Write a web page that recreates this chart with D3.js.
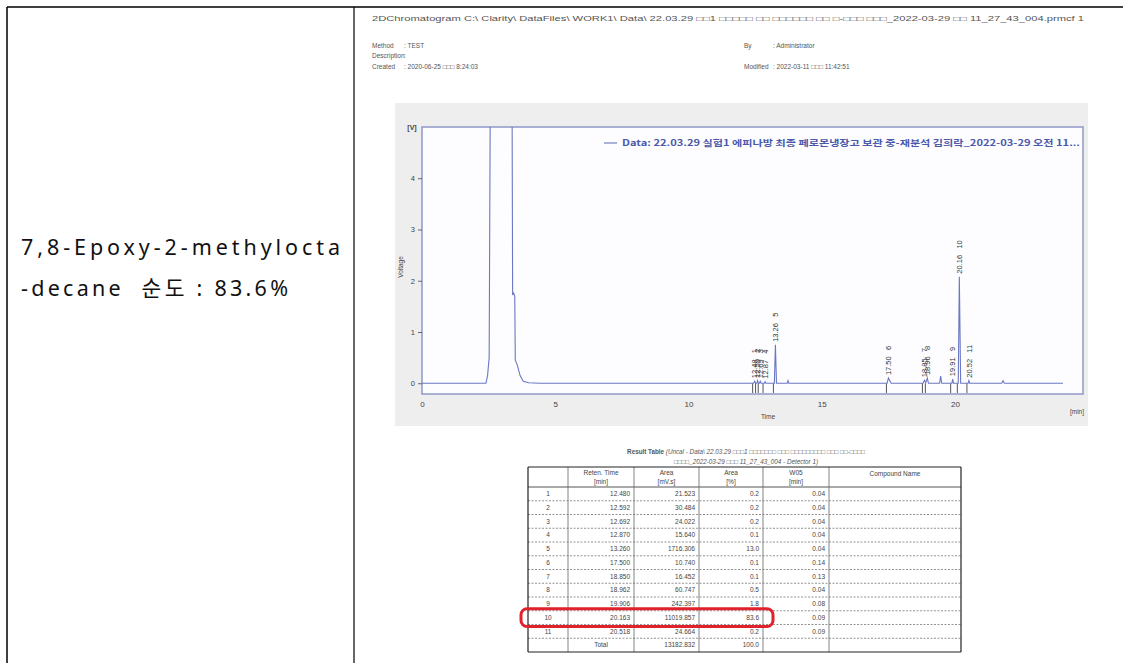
<!DOCTYPE html>
<html><head><meta charset="utf-8">
<script src="https://cdn.jsdelivr.net/npm/d3@7"></script>
<style>body{margin:0;background:#fff}svg{display:block}</style>
</head><body><svg id="c" width="1123" height="663"></svg>
<script>
// ---------- data ----------
const traceTime = [0,2.40,2.46,2.52,2.56,3.38,3.40,3.44,3.48,3.50,3.58,3.68,3.80,4.00,4.40,
  12.44,12.48,12.52,12.56,12.59,12.62,12.66,12.69,12.72,12.84,12.87,12.90,
  13.22,13.26,13.30,13.70,13.73,13.76,17.45,17.50,17.60,18.80,18.85,18.90,18.96,19.00,
  19.42,19.46,19.50,19.88,19.91,19.94,20.12,20.16,20.21,20.49,20.52,20.55,21.75,21.80,21.85,24.05];
const traceVolt = [0,0,0.15,0.5,5.4,5.4,1.72,1.76,1.70,0.45,0.35,0.15,0.04,0.01,0,
  0,0.04,0,0,0.05,0,0,0.04,0,0,0.03,0,
  0,0.75,0,0,0.05,0,0,0.10,0,0,0.06,0.01,0.10,0,
  0,0.14,0,0,0.08,0,0,2.08,0,0,0.05,0,0,0.05,0,0];
const peakNo   = [1,2,3,4,5,6,7,8,9,10,11];
const peakRT   = [12.48,12.59,12.69,12.87,13.26,17.50,18.85,18.96,19.91,20.16,20.52];
const peakTop  = [0.04,0.05,0.04,0.03,0.75,0.10,0.06,0.10,0.08,2.08,0.05];
const yTicks = [0,1,2,3,4];
const xTicks = [0,5,10,15,20];

const tblRT   = [12.480,12.592,12.692,12.870,13.260,17.500,18.850,18.962,19.906,20.163,20.518];
const tblArea = [21.523,30.484,24.022,15.640,1716.306,10.740,16.452,60.747,242.397,11019.857,24.664];
const tblPct  = [0.2,0.2,0.2,0.1,13.0,0.1,0.1,0.5,1.8,83.6,0.2];
const tblW05  = [0.04,0.04,0.04,0.04,0.04,0.14,0.13,0.04,0.08,0.09,0.09];
const totalArea = 13182.832, totalPct = 100.0;
const headers = [["",""],["Reten. Time","[min]"],["Area","[mV.s]"],["Area","[%]"],["W05","[min]"],["Compound Name",""]];

// ---------- drawing ----------
const svg = d3.select('#c');
const ink = '#000';

// document table borders
svg.append('line').attr('x1',7).attr('x2',1123).attr('y1',7).attr('y2',7).attr('stroke',ink).attr('stroke-width',1.5);
svg.append('line').attr('x1',7).attr('x2',7).attr('y1',7).attr('y2',663).attr('stroke',ink).attr('stroke-width',1.5);
svg.append('line').attr('x1',354).attr('x2',354).attr('y1',7).attr('y2',663).attr('stroke',ink).attr('stroke-width',1.2);

// left cell text
const lt = svg.append('g').attr('font-family','"Noto Sans","Noto Sans CJK KR",sans-serif').attr('font-size',21.5).attr('fill','#111');
lt.append('text').attr('x',21).attr('y',255).attr('textLength',319).attr('lengthAdjust','spacing').text('7,8-Epoxy-2-methylocta');
lt.append('text').attr('x',21).attr('y',296).attr('textLength',267).attr('lengthAdjust','spacing').style('white-space','pre').text('-decane  순도 : 83.6%');

// screenshot header text
const sm = svg.append('g').attr('font-family','"Liberation Sans",Arial,sans-serif').attr('font-size',6.5).attr('fill','#555');
sm.append('text').attr('x',372).attr('y',21).attr('textLength',712).attr('lengthAdjust','spacingAndGlyphs')
  .text('2DChromatogram C:\\ Clarity\\ DataFiles\\ WORK1\\ Data\\ 22.03.29 □□1 □□□□□ □□ □□□□□□ □□ □-□□□ □□□_2022-03-29 □□ 11_27_43_004.prmcf 1');
sm.append('text').attr('x',372).attr('y',48).text('Method');
sm.append('text').attr('x',404).attr('y',48).text(': TEST');
sm.append('text').attr('x',372).attr('y',58).text('Description');
sm.append('text').attr('x',404).attr('y',58).text(':');
sm.append('text').attr('x',372).attr('y',69).text('Created');
sm.append('text').attr('x',404).attr('y',69).text(': 2020-06-25  □□□ 8:24:03');
sm.append('text').attr('x',744).attr('y',48).text('By');
sm.append('text').attr('x',773).attr('y',48).text(': Administrator');
sm.append('text').attr('x',744).attr('y',69).text('Modified');
sm.append('text').attr('x',773).attr('y',69).text(': 2022-03-11  □□□ 11:42:51');

// chart panel
svg.append('rect').attr('x',395).attr('y',103).attr('width',693).attr('height',323).attr('fill','#eeeeee');
const x = d3.scaleLinear().domain([0,24.8]).range([422,1083]);
const y = d3.scaleLinear().domain([-0.21,5.0]).range([394,127]);
svg.append('rect').attr('x',422).attr('y',127).attr('width',661).attr('height',267)
  .attr('fill','#fdfdff').attr('stroke','#8e98c6').attr('stroke-width',1.5);

svg.append('defs').append('clipPath').attr('id','pc').append('rect')
  .attr('x',422).attr('y',127).attr('width',661).attr('height',267);

const gy = svg.append('g').attr('transform','translate(422,0)')
  .call(d3.axisLeft(y).tickValues(yTicks).tickFormat(d3.format('d')).tickSize(4).tickPadding(3));
gy.select('.domain').remove();
gy.selectAll('text').attr('font-size',7.5).attr('fill','#444').attr('font-family','"Liberation Sans",Arial,sans-serif');
gy.selectAll('line').attr('stroke','#666');

const gx = svg.append('g').attr('transform','translate(0,394)')
  .call(d3.axisBottom(x).tickValues(xTicks).tickFormat(d3.format('d')).tickSize(0).tickPadding(7));
gx.select('.domain').remove();
gx.selectAll('text').attr('font-size',8).attr('fill','#444').attr('font-family','"Liberation Sans",Arial,sans-serif');

const ax = svg.append('g').attr('font-family','"Liberation Sans",Arial,sans-serif').attr('fill','#444');
ax.append('text').attr('x',412).attr('y',130).attr('text-anchor','middle').attr('font-size',7).attr('font-weight','bold').text('[V]');
ax.append('text').attr('transform','translate(403,267) rotate(-90)').attr('text-anchor','middle').attr('font-size',6.5).text('Voltage');
ax.append('text').attr('x',768).attr('y',419).attr('text-anchor','middle').attr('font-size',6.5).text('Time');
ax.append('text').attr('x',1077).attr('y',414).attr('text-anchor','middle').attr('font-size',6.5).text('[min]');

// legend
svg.append('line').attr('x1',604).attr('x2',617).attr('y1',143).attr('y2',143).attr('stroke','#5a68b0').attr('stroke-width',1);
svg.append('text').attr('x',622).attr('y',146).attr('font-size',8.5).attr('font-weight','bold')
  .attr('font-family','"Noto Sans CJK KR","Liberation Sans",sans-serif').attr('fill','#4a58aa')
  .attr('textLength',458).attr('lengthAdjust','spacingAndGlyphs')
  .text('Data:  22.03.29 실험1 에피나방 최종 페로몬냉장고 보관 중-재분석 김희락_2022-03-29 오전 11...');

// integration markers
svg.append('g').selectAll('line').data(peakRT).join('line')
  .attr('x1',d=>x(d)-2).attr('x2',d=>x(d)-2).attr('y1',y(0)).attr('y2',y(-0.19))
  .attr('stroke','#555').attr('stroke-width',1);

// trace
const pts = traceTime.map((t,i)=>[t,traceVolt[i]]);
svg.append('path').datum(pts).attr('clip-path','url(#pc)')
  .attr('d',d3.line().x(d=>x(d[0])).y(d=>y(d[1])))
  .attr('fill','none').attr('stroke','#6b78c2').attr('stroke-width',1.1);

// peak labels
svg.append('g').selectAll('text').data(peakNo).join('text')
  .attr('transform',(d,i)=>`translate(${x(peakRT[i])},${y(peakTop[i])-3}) rotate(-90)`)
  .attr('dy','0.35em').attr('font-size',7.5).attr('fill','#333')
  .attr('font-family','"Liberation Sans",Arial,sans-serif').style('white-space','pre')
  .text((d,i)=>`${peakRT[i].toFixed(2)}   ${d}`);

// result table title
const tt = svg.append('g').attr('font-family','"Liberation Sans",Arial,sans-serif').attr('font-size',6.3).attr('fill','#555').attr('text-anchor','middle');
const t1 = tt.append('text').attr('x',746).attr('y',454);
t1.append('tspan').attr('font-weight','bold').text('Result Table ');
t1.append('tspan').attr('font-style','italic').text('(Uncal - Data\\ 22.03.29 □□□1 □□□□□□□ □□□ □□□□□□□□□ □□□ □□-□□□□');
tt.append('text').attr('x',746).attr('y',464).attr('font-style','italic').text('□□□□_2022-03-29 □□□ 11_27_43_004 - Detector 1)');

// result table
const colX = [528,568,634,699,763,829,961];
const tTop = 467, hdrB = 487, rh = 13.75, nRows = tblRT.length + 1;
const tBottom = hdrB + nRows*rh;
const tg = svg.append('g').attr('font-family','"Liberation Sans",Arial,sans-serif').attr('font-size',6.5).attr('fill','#444');
d3.range(1,nRows).forEach(k=>{
  tg.append('line').attr('x1',colX[0]).attr('x2',colX[6]).attr('y1',hdrB+k*rh).attr('y2',hdrB+k*rh)
    .attr('stroke','#777').attr('stroke-width',0.8).attr('stroke-dasharray','2,1.5');
});
tg.append('line').attr('x1',colX[0]).attr('x2',colX[6]).attr('y1',hdrB).attr('y2',hdrB).attr('stroke','#555').attr('stroke-width',1);
colX.forEach((cx,i)=>{
  tg.append('line').attr('x1',cx).attr('x2',cx).attr('y1',tTop).attr('y2',tBottom)
    .attr('stroke',(i===0||i===6)?'#222':'#666').attr('stroke-width',(i===0||i===6)?1.2:0.8);
});
tg.append('line').attr('x1',colX[0]).attr('x2',colX[6]).attr('y1',tTop).attr('y2',tTop).attr('stroke','#222').attr('stroke-width',1.2);
tg.append('line').attr('x1',colX[0]).attr('x2',colX[6]).attr('y1',tBottom).attr('y2',tBottom).attr('stroke','#222').attr('stroke-width',1.2);
headers.forEach((h,i)=>{
  const cx = (colX[i]+colX[i+1])/2;
  tg.append('text').attr('x',cx).attr('y',h[1]?475:476).attr('text-anchor','middle').text(h[0]);
  if(h[1]) tg.append('text').attr('x',cx).attr('y',484).attr('text-anchor','middle').text(h[1]);
});
tblRT.forEach((rt,i)=>{
  const cy = hdrB + i*rh + rh/2 + 2.3;
  tg.append('text').attr('x',(colX[0]+colX[1])/2).attr('y',cy).attr('text-anchor','middle').text(peakNo[i]);
  tg.append('text').attr('x',colX[2]-4).attr('y',cy).attr('text-anchor','end').text(rt.toFixed(3));
  tg.append('text').attr('x',colX[3]-4).attr('y',cy).attr('text-anchor','end').text(tblArea[i].toFixed(3));
  tg.append('text').attr('x',colX[4]-4).attr('y',cy).attr('text-anchor','end').text(tblPct[i].toFixed(1));
  tg.append('text').attr('x',colX[5]-4).attr('y',cy).attr('text-anchor','end').text(tblW05[i].toFixed(2));
});
const ty = hdrB + tblRT.length*rh + rh/2 + 2.3;
tg.append('text').attr('x',(colX[1]+colX[2])/2).attr('y',ty).attr('text-anchor','middle').text('Total');
tg.append('text').attr('x',colX[3]-4).attr('y',ty).attr('text-anchor','end').text(totalArea.toFixed(3));
tg.append('text').attr('x',colX[4]-4).attr('y',ty).attr('text-anchor','end').text(totalPct.toFixed(1));

// highlight box around peak 10
const hi = peakNo.indexOf(10);
svg.append('rect').attr('x',521).attr('y',hdrB+hi*rh-2).attr('width',252).attr('height',rh+4).attr('rx',6)
  .attr('fill','none').attr('stroke','#e0222c').attr('stroke-width',3);
</script></body></html>
